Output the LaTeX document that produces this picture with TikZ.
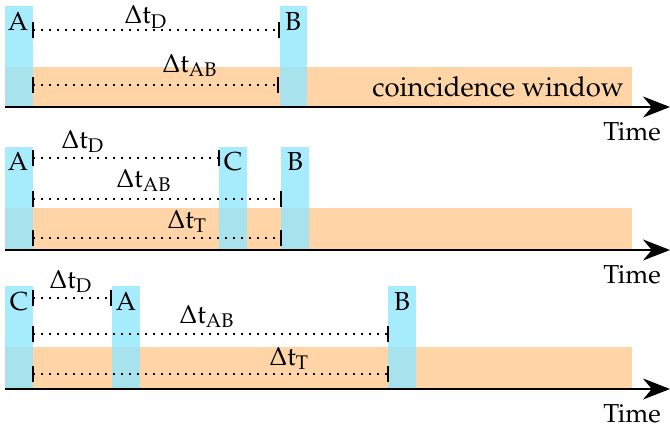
\documentclass[tikz,border=0pt]{standalone}
\usepackage[T1]{fontenc}
\usepackage{mathpazo}
\usetikzlibrary{arrows.meta}
\definecolor{win}{RGB}{255,213,168}
\definecolor{det}{RGB}{167,236,253}
\definecolor{detwin}{RGB}{168,226,236}
\tikzset{
  window/.style={fill=win},
  detector/.style={fill=det},
  overlap/.style={fill=detwin},
  axis/.style={line width=2pt, -{Stealth[length=27pt,width=21pt]}},
  interval/.style={line width=1.4pt, dash pattern=on 1.6pt off 6.4pt},
  tickmark/.style={line width=1.5pt},
  lbl/.style={font=\fontsize{26}{29}\selectfont, inner sep=0pt},
  sublbl/.style={font=\fontsize{26}{29}\selectfont, inner sep=0pt, anchor=base west},
}
% detector bar: #1 = left x, #2 = right x, #3 = top y, #4 = window top y, #5 = bottom y
\newcommand{\detbar}[5]{%
  \fill[detector] (#1,#3) rectangle (#2,#5);
  \fill[overlap] (#1,#4) rectangle (#2,#5);
}
\newcommand{\interv}[2]{%
  \draw[interval] (#1) -- (#2);
  \draw[tickmark] ([yshift=-8pt]#1) -- ([yshift=8pt]#1);
  \draw[tickmark] ([yshift=-8pt]#2) -- ([yshift=8pt]#2);
}
\begin{document}
\begin{tikzpicture}[x=1pt,y=-1pt]
\useasboundingbox (0,0) rectangle (670,434);
% ---------- panel 1 ----------
\fill[window] (5,67) rectangle (632,107);
\detbar{5}{33}{6}{67}{107}
\detbar{280}{307}{6}{67}{107}
\node[lbl, anchor=base] (a1) at (18,30) {A};
\node[lbl, anchor=base] (b1) at (293,30) {B};
\coordinate (p1s1) at (33,30); \coordinate (p1e1) at (279,30);
\coordinate (p1s2) at (33,85); \coordinate (p1e2) at (278,85);
\interv{p1s1}{p1e1}
\interv{p1s2}{p1e2}
\node[sublbl] (d1) at (124,23.5) {$\Delta\mathrm{t}_{\mathrm{D}}$};
\node[sublbl] (ab1) at (162,72) {$\Delta\mathrm{t}_{\mathrm{AB}}$};
\node[lbl, anchor=base east, font=\fontsize{27.5}{30}\selectfont] (cw) at (624,96) {coincidence window};
\coordinate (ax1s) at (5,107); \coordinate (ax1e) at (670,107);
\draw[axis] (ax1s) -- (ax1e);
\node[lbl, anchor=base east] (t1) at (661,140) {Time};
% ---------- panel 2 ----------
\fill[window] (5,208) rectangle (632,250);
\detbar{5}{33}{147}{208}{250}
\detbar{219}{247}{147}{208}{250}
\detbar{281}{309}{147}{208}{250}
\node[lbl, anchor=base] (a2) at (18,170) {A};
\node[lbl, anchor=base] (c2) at (233,170) {C};
\node[lbl, anchor=base] (b2) at (295,170) {B};
\coordinate (p2s1) at (33,158); \coordinate (p2e1) at (219,158);
\coordinate (p2s2) at (33,199); \coordinate (p2e2) at (281,199);
\coordinate (p2s3) at (33,238); \coordinate (p2e3) at (281,238);
\interv{p2s1}{p2e1}
\interv{p2s2}{p2e2}
\interv{p2s3}{p2e3}
\node[sublbl] (d2) at (61,148) {$\Delta\mathrm{t}_{\mathrm{D}}$};
\node[sublbl] (ab2) at (116,187) {$\Delta\mathrm{t}_{\mathrm{AB}}$};
\node[sublbl] (tt2) at (167,228) {$\Delta\mathrm{t}_{\mathrm{T}}$};
\coordinate (ax2s) at (5,250); \coordinate (ax2e) at (670,250);
\draw[axis] (ax2s) -- (ax2e);
\node[lbl, anchor=base east] (t2) at (661,283) {Time};
% ---------- panel 3 ----------
\fill[window] (5,347) rectangle (632,389);
\detbar{5}{33}{286}{347}{389}
\detbar{112}{140}{286}{347}{389}
\detbar{388}{416}{286}{347}{389}
\node[lbl, anchor=base] (c3) at (19,310) {C};
\node[lbl, anchor=base] (a3) at (126,310) {A};
\node[lbl, anchor=base] (b3) at (402,310) {B};
\coordinate (p3s1) at (33,298); \coordinate (p3e1) at (111,298);
\coordinate (p3s2) at (33,334); \coordinate (p3e2) at (388,334);
\coordinate (p3s3) at (33,374); \coordinate (p3e3) at (388,374);
\interv{p3s1}{p3e1}
\interv{p3s2}{p3e2}
\interv{p3s3}{p3e3}
\node[sublbl] (d3) at (49,288) {$\Delta\mathrm{t}_{\mathrm{D}}$};
\node[sublbl] (ab3) at (179,323) {$\Delta\mathrm{t}_{\mathrm{AB}}$};
\node[sublbl] (tt3) at (269,365) {$\Delta\mathrm{t}_{\mathrm{T}}$};
\coordinate (ax3s) at (5,389); \coordinate (ax3e) at (670,389);
\draw[axis] (ax3s) -- (ax3e);
\node[lbl, anchor=base east] (t3) at (661,422) {Time};
\end{tikzpicture}
\end{document}
